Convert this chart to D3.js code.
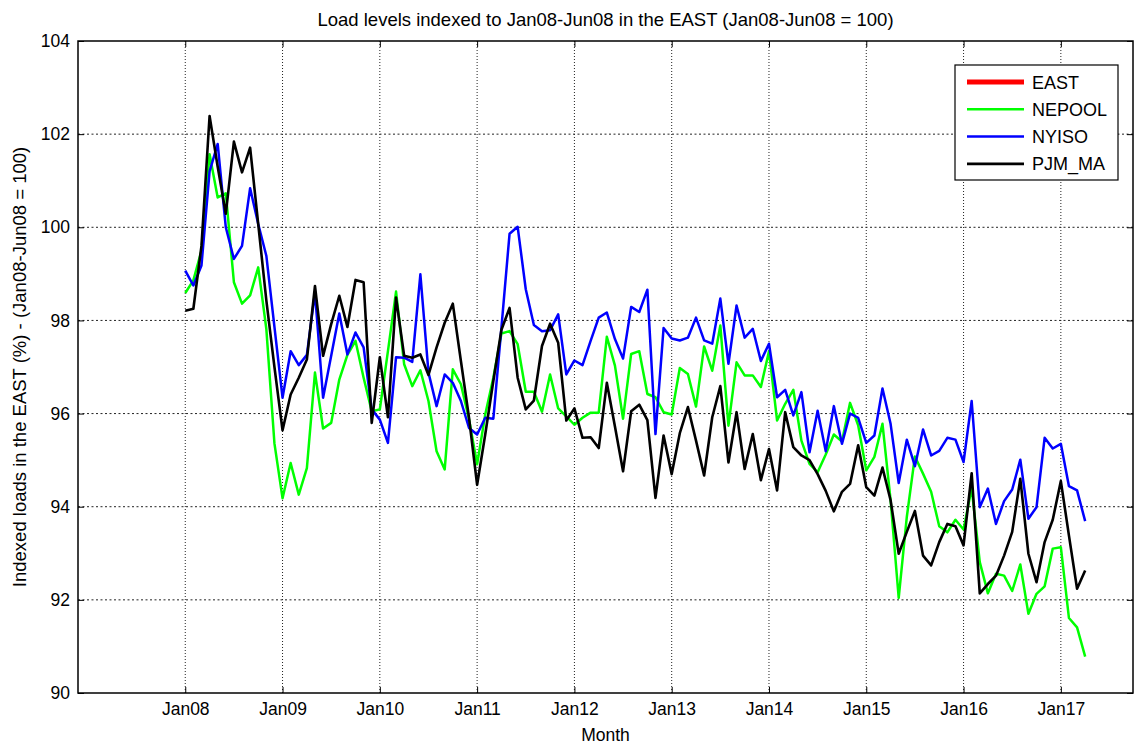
<!DOCTYPE html>
<html>
<head>
<meta charset="utf-8">
<script src="https://cdn.jsdelivr.net/npm/d3@7"></script>
<style>
  body { margin: 0; background: #fff; }
  svg { font-family: "Liberation Sans", Arial, sans-serif; }
</style>
</head>
<body>
<svg></svg>
<script>
// months from Jan08, index 0 = Jan08
let tickLabels = ["Jan08", "Jan09", "Jan10", "Jan11", "Jan12", "Jan13", "Jan14", "Jan15", "Jan16", "Jan17"];
let yTicks = [90, 92, 94, 96, 98, 100, 102, 104];

let east = [];
let nepool = [
  98.59, 98.86, 99.5, 101.57, 100.64, 100.73, 98.82, 98.36, 98.54, 99.14, 97.82, 95.36,
  94.18, 94.94, 94.26, 94.83, 96.88, 95.68, 95.8, 96.73, 97.26, 97.56, 96.77, 96.05,
  96.09, 97.34, 98.62, 97.06, 96.59, 96.93, 96.27, 95.19, 94.8, 96.95, 96.63, 95.88,
  94.91, 95.98, 96.77, 97.72, 97.77, 97.49, 96.47, 96.47, 96.04, 96.84, 96.11, 95.94,
  95.76, 95.91, 96.02, 96.02, 97.65, 97.03, 95.89, 97.28, 97.34, 96.42, 96.35, 96.03,
  95.98, 96.98, 96.85, 96.15, 97.44, 96.92, 97.89, 95.74, 97.1, 96.82, 96.82, 96.57,
  97.34, 95.85, 96.21, 96.51, 95.42, 94.92, 94.74, 95.12, 95.55, 95.4, 96.23, 95.75,
  94.78, 95.07, 95.78, 94.14, 92.04, 93.78, 95.08, 94.71, 94.32, 93.58, 93.45, 93.72,
  93.51, 94.4, 92.81, 92.14, 92.56, 92.52, 92.19, 92.76, 91.7, 92.13, 92.29, 93.1,
  93.13, 91.61, 91.41, 90.78
];
let nyiso = [
  99.07, 98.75, 99.18, 101.2, 101.79, 100.0, 99.32, 99.6, 100.84, 100.07, 99.39, 97.86,
  96.34, 97.34, 97.04, 97.26, 98.6, 96.34, 97.24, 98.15, 97.27, 97.74, 97.42, 96.09,
  95.87, 95.37, 97.21, 97.2, 97.11, 98.99, 96.88, 96.16, 96.84, 96.66, 96.27, 95.69,
  95.55, 95.91, 95.89, 97.85, 99.86, 100.01, 98.67, 97.9, 97.77, 97.79, 98.13, 96.84,
  97.14, 97.04, 97.56, 98.06, 98.17, 97.6, 97.18, 98.29, 98.18, 98.66, 95.56, 97.84,
  97.61, 97.57, 97.63, 98.06, 97.57, 97.5, 98.47, 97.07, 98.32, 97.63, 97.82, 97.13,
  97.5, 96.35, 96.51, 95.96, 96.46, 95.17, 96.06, 95.19, 96.16, 95.35, 96.0, 95.91,
  95.37, 95.53, 96.54, 95.78, 94.51, 95.44, 94.87, 95.66, 95.1, 95.2, 95.48, 95.44,
  94.96, 96.27, 93.99, 94.39, 93.63, 94.12, 94.37, 95.01, 93.74, 93.99, 95.48, 95.25,
  95.35, 94.44, 94.35, 93.69
];
let pjmMa = [
  98.21, 98.25, 99.6, 102.39, 101.3, 100.29, 101.84, 101.18, 101.71, 100.07, 98.43, 97.0,
  95.64, 96.41, 96.77, 97.16, 98.74, 97.24, 97.92, 98.53, 97.86, 98.87, 98.82, 95.8,
  97.21, 95.92, 98.49, 97.24, 97.2, 97.27, 96.83, 97.42, 97.95, 98.36, 97.13, 95.91,
  94.47, 95.55, 96.7, 97.8, 98.27, 96.77, 96.09, 96.28, 97.45, 97.93, 97.52, 95.85,
  96.11, 95.48, 95.49, 95.26, 96.66, 95.72, 94.76, 96.05, 96.19, 95.86, 94.19, 95.53,
  94.7, 95.58, 96.14, 95.42, 94.67, 95.92, 96.59, 94.95, 96.03, 94.81, 95.56, 94.57,
  95.24, 94.35, 96.03, 95.28, 95.1, 95.0, 94.7, 94.34, 93.9, 94.32, 94.49, 95.32,
  94.42, 94.24, 94.84, 94.14, 92.99, 93.46, 93.91, 92.95, 92.74, 93.24, 93.63, 93.58,
  93.17, 94.72, 92.14, 92.34, 92.52, 92.95, 93.46, 94.6, 92.99, 92.38, 93.24, 93.72,
  94.55, 93.38, 92.24, 92.63
];

let series = [
  { name: "EAST", values: east, color: "#ff0000", width: 5 },
  { name: "NEPOOL", values: nepool, color: "#00ff00", width: 2.5 },
  { name: "NYISO", values: nyiso, color: "#0000ff", width: 2.5 },
  { name: "PJM_MA", values: pjmMa, color: "#000000", width: 2.6 }
];

let width = 1137;
let height = 745;
let padLeft = 78, padTop = 41, padRight = 1133, padBottom = 693;
let svg = d3.select("svg").attr("width", width).attr("height", height);

let xScale = d3.scaleLinear().domain([-13.23, 116.9]).range([padLeft, padRight]);
let yScale = d3.scaleLinear().domain([90, 104]).range([padBottom, padTop]);

// grid
svg.append("g")
  .selectAll("line")
  .data(tickLabels)
  .enter()
  .append("line")
  .attr("x1", (d, i) => xScale(i * 12))
  .attr("x2", (d, i) => xScale(i * 12))
  .attr("y1", padTop)
  .attr("y2", padBottom)
  .attr("stroke", "#222")
  .attr("stroke-width", 1)
  .attr("stroke-dasharray", "1,2");

svg.append("g")
  .selectAll("line")
  .data(yTicks.slice(1, -1))
  .enter()
  .append("line")
  .attr("x1", padLeft)
  .attr("x2", padRight)
  .attr("y1", (d) => yScale(d))
  .attr("y2", (d) => yScale(d))
  .attr("stroke", "#222")
  .attr("stroke-width", 1)
  .attr("stroke-dasharray", "2,2.5");

// axes
let xAxis = d3.axisBottom(xScale)
  .tickValues(tickLabels.map((d, i) => i * 12))
  .tickFormat((d) => tickLabels[d / 12])
  .tickSizeInner(-6)
  .tickSizeOuter(0)
  .tickPadding(10);
let yAxis = d3.axisLeft(yScale)
  .tickValues(yTicks)
  .tickSizeInner(-6)
  .tickSizeOuter(0)
  .tickPadding(8);

let gx = svg.append("g").attr("transform", `translate(0, ${padBottom})`).call(xAxis);
let gy = svg.append("g").attr("transform", `translate(${padLeft}, 0)`).call(yAxis);
[gx, gy].forEach((g) => {
  g.select(".domain").remove();
  g.selectAll("text").attr("font-size", 17.5).attr("fill", "#000")
    .attr("font-family", "Liberation Sans, Arial, sans-serif");
  g.selectAll("line").attr("stroke", "#000");
});

// mirrored ticks on top and right
svg.append("g").attr("transform", `translate(0, ${padTop})`)
  .call(d3.axisTop(xScale).tickValues(tickLabels.map((d, i) => i * 12)).tickSizeInner(-6).tickSizeOuter(0).tickFormat(""))
  .call((g) => g.select(".domain").remove());
svg.append("g").attr("transform", `translate(${padRight}, 0)`)
  .call(d3.axisRight(yScale).tickValues(yTicks).tickSizeInner(-6).tickSizeOuter(0).tickFormat(""))
  .call((g) => g.select(".domain").remove());

// lines
let line = d3.line()
  .x((d, i) => xScale(i))
  .y((d) => yScale(d));

svg.append("g")
  .selectAll("path")
  .data(series.filter((s) => s.values.length > 0))
  .enter()
  .append("path")
  .attr("d", (s) => line(s.values))
  .attr("fill", "none")
  .attr("stroke", (s) => s.color)
  .attr("stroke-width", (s) => s.width)
  .attr("stroke-linejoin", "round");

// box
svg.append("rect")
  .attr("x", padLeft)
  .attr("y", padTop)
  .attr("width", padRight - padLeft)
  .attr("height", padBottom - padTop)
  .attr("fill", "none")
  .attr("stroke", "#000")
  .attr("stroke-width", 1.5);

// labels
svg.append("text")
  .attr("x", (padLeft + padRight) / 2)
  .attr("y", 26)
  .attr("text-anchor", "middle")
  .attr("font-size", 18.5)
  .text("Load levels indexed to Jan08-Jun08 in the EAST (Jan08-Jun08 = 100)");

svg.append("text")
  .attr("x", (padLeft + padRight) / 2)
  .attr("y", 741)
  .attr("text-anchor", "middle")
  .attr("font-size", 17.5)
  .text("Month");

svg.append("text")
  .attr("transform", `translate(26, ${(padTop + padBottom) / 2}) rotate(-90)`)
  .attr("text-anchor", "middle")
  .attr("font-size", 18.5)
  .text("Indexed loads in the EAST (%) - (Jan08-Jun08 = 100)");

// legend
let legend = svg.append("g").attr("transform", "translate(955, 65)");
legend.append("rect")
  .attr("width", 163)
  .attr("height", 115)
  .attr("fill", "#fff")
  .attr("stroke", "#000")
  .attr("stroke-width", 1.2);
let rows = legend.selectAll("g")
  .data(series)
  .enter()
  .append("g")
  .attr("transform", (d, i) => `translate(0, ${17 + i * 27.3})`);
rows.append("line")
  .attr("x1", 12)
  .attr("x2", 69)
  .attr("stroke", (d) => d.color)
  .attr("stroke-width", (d) => d.width);
rows.append("text")
  .attr("x", 77)
  .attr("y", 6.5)
  .attr("font-size", 18)
  .text((d) => d.name);
</script>
</body>
</html>
